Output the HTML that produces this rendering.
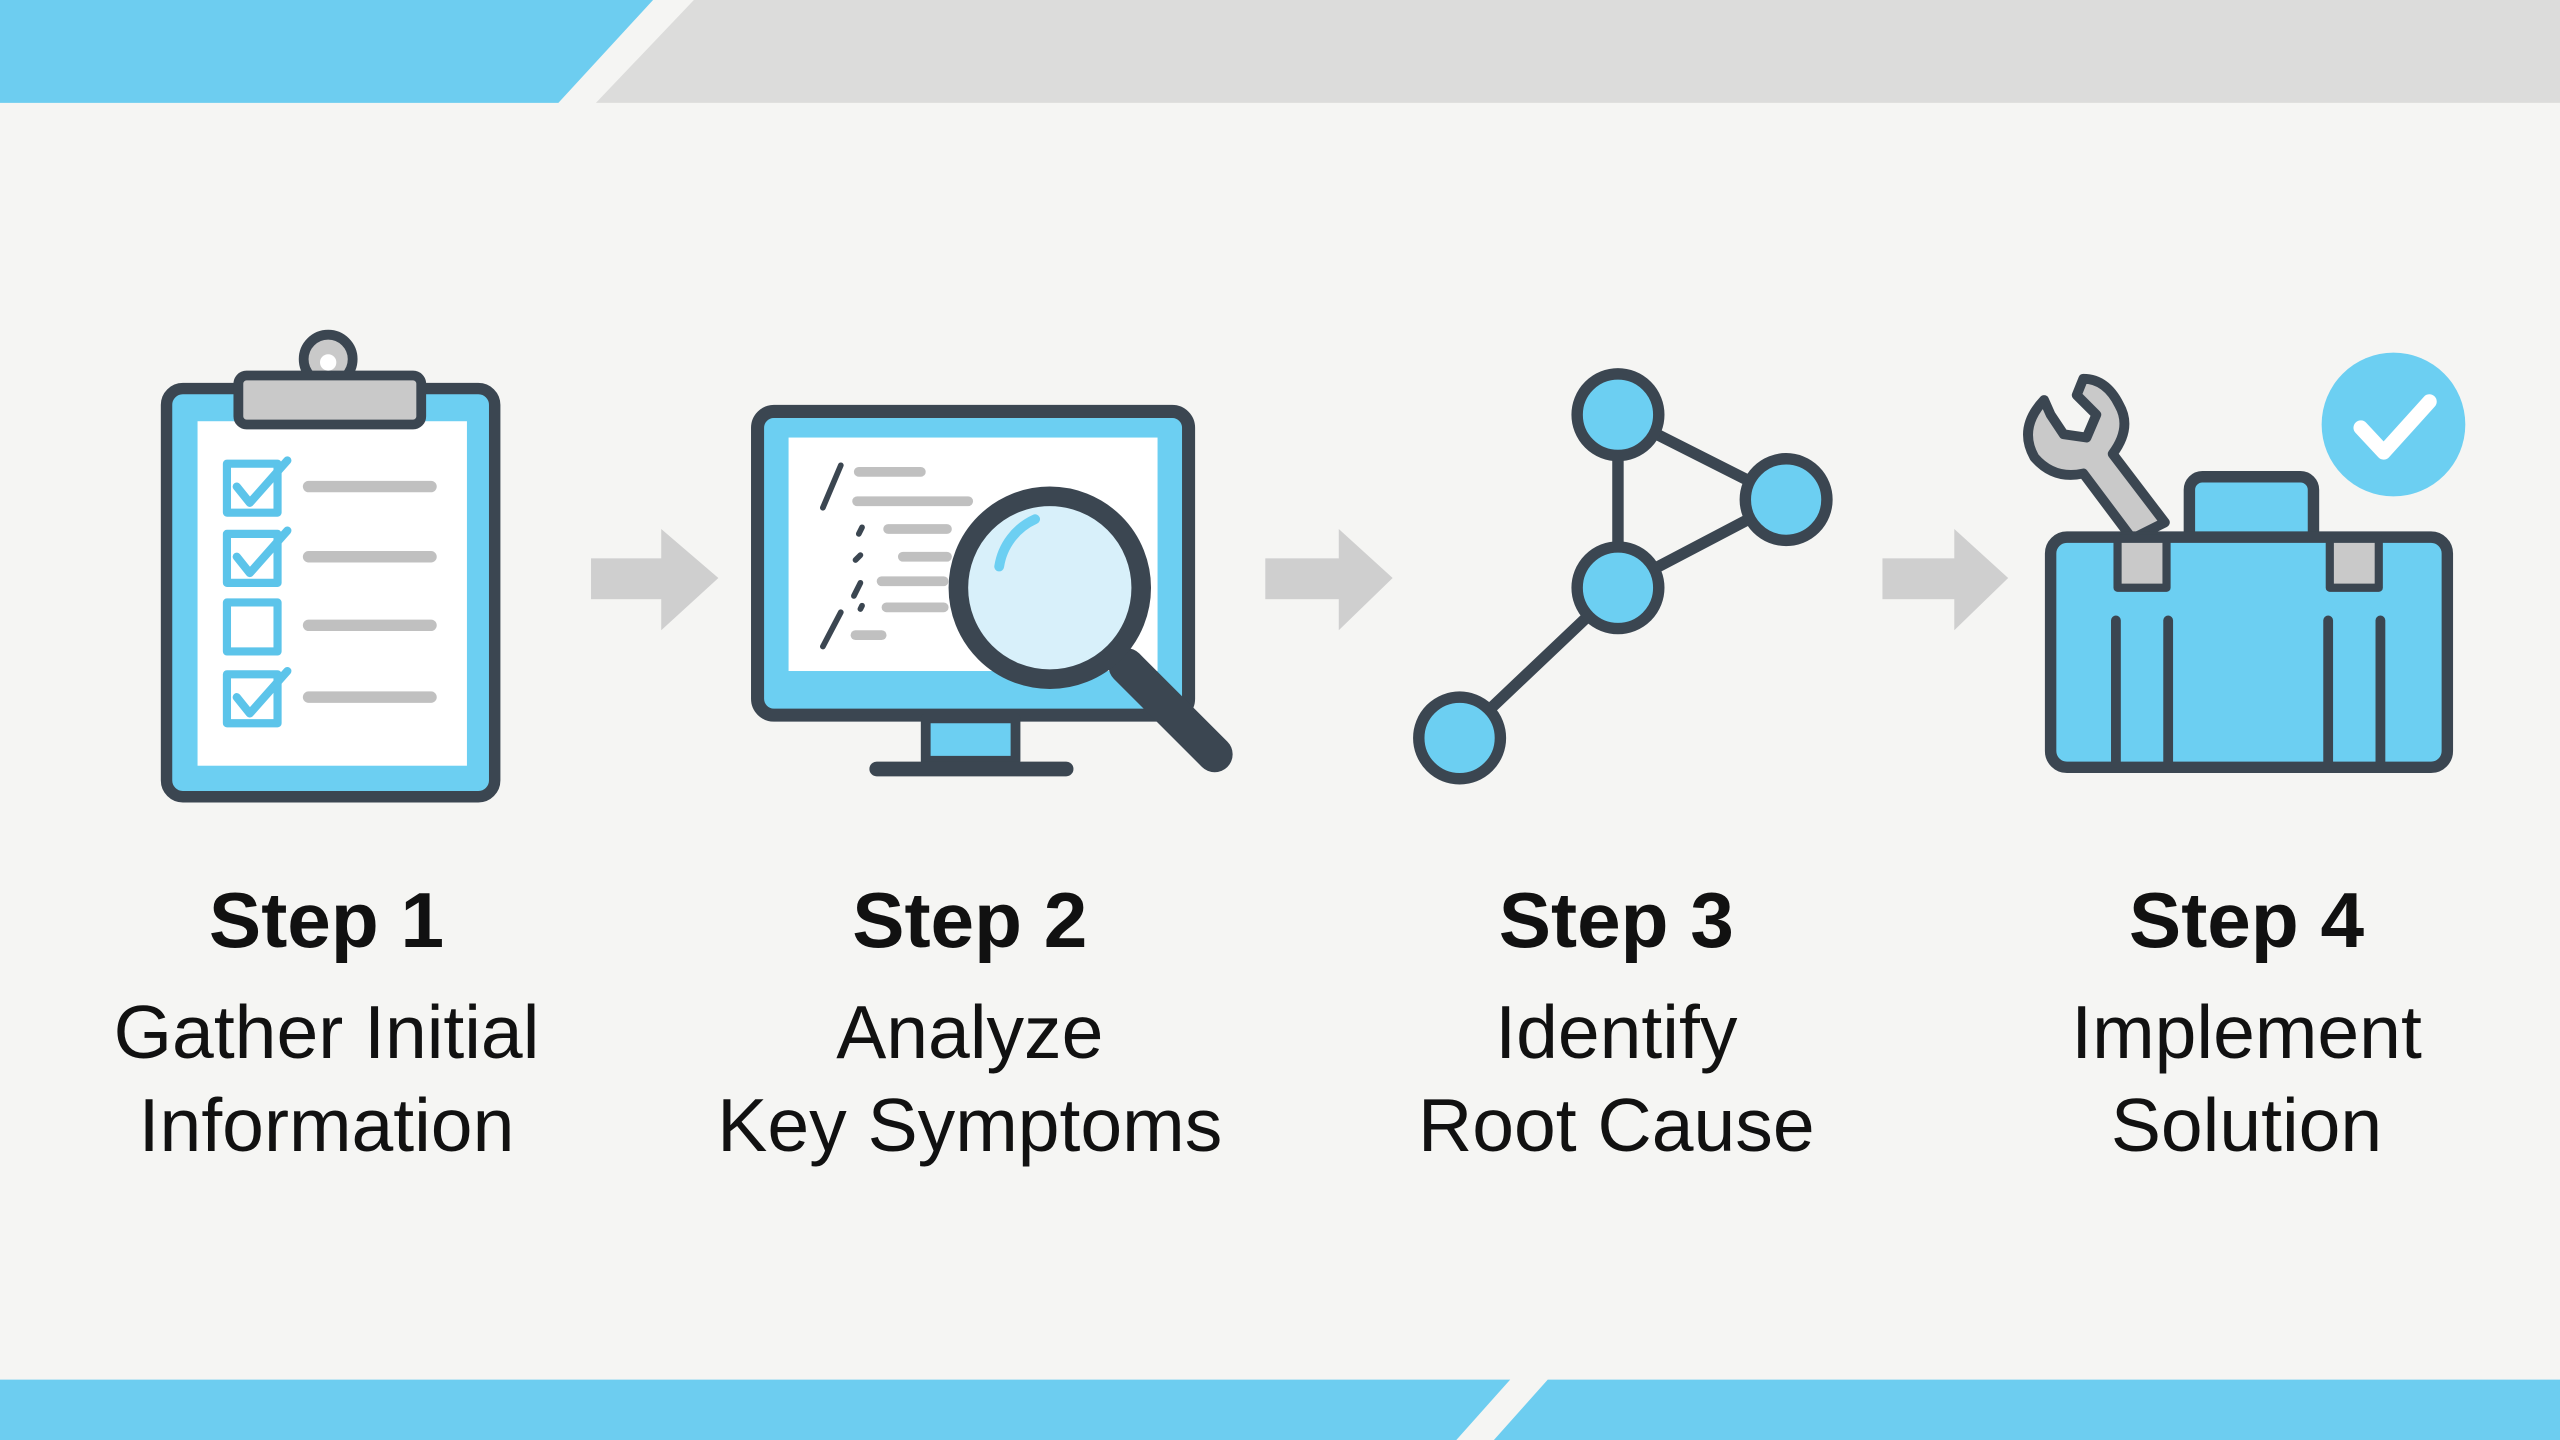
<!DOCTYPE html>
<html><head><meta charset="utf-8"><style>
html,body{margin:0;padding:0;background:#f5f5f3;}
svg{display:block;}
text{font-family:"Liberation Sans",sans-serif;fill:#111;text-anchor:middle;}
</style></head><body>
<svg width="2560" height="1440" viewBox="0 0 1568 882" xmlns="http://www.w3.org/2000/svg">
<rect width="1568" height="882" fill="#f5f5f3"/>
<polygon points="0,0 400,0 342,63 0,63" fill="#6dcdf0"/>
<polygon points="425,0 1568,0 1568,63 365,63" fill="#dcdcdb"/>
<polygon points="0,845 925,845 892,882 0,882" fill="#6dcdf0"/>
<polygon points="948,845 1568,845 1568,882 915,882" fill="#6dcdf0"/>
<g stroke="#3b4651" stroke-linecap="round" stroke-linejoin="round">
<!-- clipboard -->
<rect x="102" y="238" width="201" height="250" rx="10" fill="#6ccff2" stroke-width="7"/>
<rect x="121" y="258" width="165" height="211" fill="#fff" stroke="none"/>
<circle cx="201" cy="220" r="15" fill="#c9c9c9" stroke-width="6"/>
<rect x="146" y="230" width="112" height="30" rx="5" fill="#c9c9c9" stroke-width="6"/>
<circle cx="201" cy="222" r="5" fill="#fff" stroke="none"/>
<g fill="none" stroke="#5cc4ea" stroke-width="5">
<rect x="139" y="284" width="31" height="30"/><rect x="139" y="327" width="31" height="30"/>
<rect x="139" y="369" width="31" height="30"/><rect x="139" y="413" width="31" height="30"/>
<polyline points="145,298 153,308 176,282"/><polyline points="145,341 153,351 176,325"/><polyline points="145,427 153,437 176,411"/>
</g>
<g stroke="#c0c0c0" stroke-width="7">
<line x1="189" y1="298" x2="264" y2="298"/><line x1="189" y1="341" x2="264" y2="341"/>
<line x1="189" y1="383" x2="264" y2="383"/><line x1="189" y1="427" x2="264" y2="427"/>
</g>
<!-- monitor -->
<rect x="464" y="252" width="264" height="186" rx="10" fill="#6ccff2" stroke-width="8"/>
<rect x="483" y="268" width="226" height="143" fill="#fff" stroke="none"/>
<rect x="567" y="440" width="55" height="26" fill="#6ccff2" stroke-width="6"/>
<line x1="537" y1="471" x2="653" y2="471" stroke-width="9"/>
<g stroke="#c0c0c0" stroke-width="6">
<line x1="526" y1="289" x2="564" y2="289"/><line x1="525" y1="307" x2="593" y2="307"/>
<line x1="544" y1="324" x2="580" y2="324"/><line x1="553" y1="341" x2="580" y2="341"/>
<line x1="540" y1="356" x2="578" y2="356"/><line x1="543" y1="372" x2="578" y2="372"/>
<line x1="524" y1="389" x2="540" y2="389"/>
</g>
<g stroke-width="3.5">
<line x1="515" y1="285" x2="504" y2="311"/><line x1="527" y1="357" x2="523" y2="365"/><line x1="515" y1="375" x2="504" y2="396"/>
<line x1="528" y1="323" x2="526" y2="327"/><line x1="527" y1="340" x2="524" y2="343"/><line x1="528" y1="371" x2="527" y2="373"/></g>
<line x1="690" y1="408" x2="744" y2="462" stroke-width="22"/>
<circle cx="643" cy="360" r="56" fill="#d8f0fa" stroke-width="12"/>
<path d="M612,347 A38,38 0 0 1 634,318" fill="none" stroke="#6ccff2" stroke-width="6"/>
<!-- graph -->
<g stroke-width="7" fill="none">
<line x1="991" y1="254" x2="991" y2="360"/><line x1="991" y1="254" x2="1094" y2="306"/>
<line x1="1094" y1="306" x2="991" y2="360"/><line x1="991" y1="360" x2="894" y2="452"/>
</g>
<g fill="#6ccff2" stroke-width="7">
<circle cx="991" cy="254" r="25"/><circle cx="1094" cy="306" r="25"/>
<circle cx="991" cy="360" r="25"/><circle cx="894" cy="452" r="25"/>
</g>
<!-- wrench -->
<path d="M1252,245 Q1236,262 1246,280 Q1258,294 1276,290 L1306,330 L1326,320 L1294,278 Q1306,262 1298,248 Q1290,232 1276,232 L1272,242 L1284,254 L1278,268 L1264,266 L1256,254 Z" fill="#c9c9c9" stroke-width="6"/>
<rect x="1341" y="292" width="76" height="42" rx="8" fill="#6ccff2" stroke-width="7"/>
<rect x="1256" y="329" width="243" height="141" rx="10" fill="#6ccff2" stroke-width="7"/>
<rect x="1297" y="330" width="30" height="30" fill="#c9c9c9" stroke-width="5"/>
<rect x="1427" y="330" width="30" height="30" fill="#c9c9c9" stroke-width="5"/>
<g stroke-width="6"><line x1="1296" y1="380" x2="1296" y2="467"/><line x1="1328" y1="380" x2="1328" y2="467"/>
<line x1="1426" y1="380" x2="1426" y2="467"/><line x1="1458" y1="380" x2="1458" y2="467"/></g>
</g>
<circle cx="1466" cy="260" r="44" fill="#6ccff2"/>
<polyline points="1446,262 1460,277 1488,246" fill="none" stroke="#fff" stroke-width="9" stroke-linecap="round" stroke-linejoin="round"/>
<!-- arrows -->
<g fill="#cfcfcf">
<rect x="362" y="342" width="44" height="25"/><polygon points="405,324 440,354 405,386"/>
<rect x="775" y="342" width="46" height="25"/><polygon points="820,324 853,354 820,386"/>
<rect x="1153" y="342" width="45" height="25"/><polygon points="1197,324 1230,354 1197,386"/>
</g>
<!-- text -->
<g font-weight="bold" font-size="48">
<text x="200" y="580">Step 1</text><text x="594" y="580">Step 2</text>
<text x="990" y="580">Step 3</text><text x="1376" y="580">Step 4</text>
</g>
<g font-size="46">
<text x="200" y="648">Gather Initial</text><text x="200" y="705">Information</text>
<text x="594" y="648">Analyze</text><text x="594" y="705">Key Symptoms</text>
<text x="990" y="648">Identify</text><text x="990" y="705">Root Cause</text>
<text x="1376" y="648">Implement</text><text x="1376" y="705">Solution</text>
</g>
</svg>
</body></html>
